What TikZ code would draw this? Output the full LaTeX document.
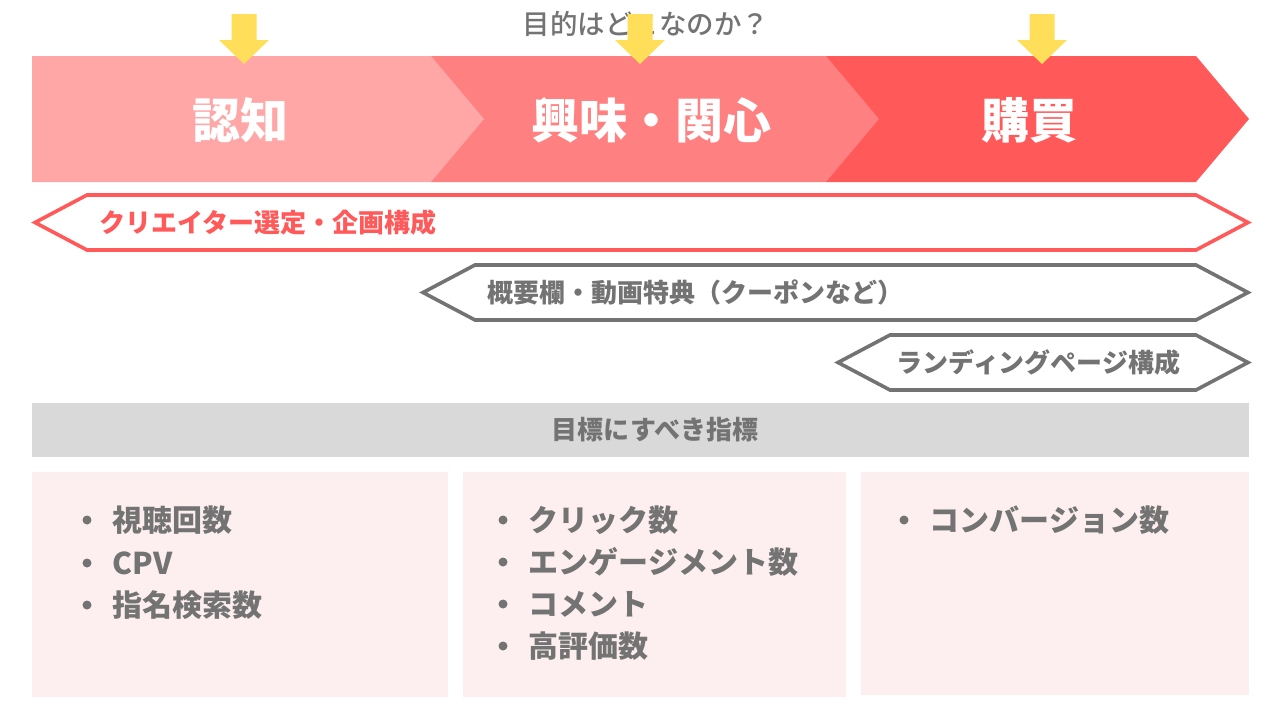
\documentclass[tikz,border=0pt]{standalone}
\usepackage{fontspec}
\setmainfont{Noto Sans CJK JP}
\newfontfamily\jpmedium{Noto Sans CJK JP Medium}
\usepackage{xcolor}
\usepackage{tikz}
\usetikzlibrary{math}
\usetikzlibrary{calc}
\usetikzlibrary{positioning}

\definecolor{stageA}{RGB}{255,166,166}
\definecolor{stageB}{RGB}{255,128,128}
\definecolor{stageC}{RGB}{255,89,89}
\definecolor{arrowyellow}{RGB}{255,222,89}
\definecolor{textgray}{RGB}{115,115,115}
\definecolor{headgray}{RGB}{217,217,217}
\definecolor{boxpink}{RGB}{253,239,239}

\begin{document}
\begin{tikzpicture}[x=1pt,y=-1pt,line width=3.6pt,line join=miter,
  stagelabel/.style={text=white,font=\fontsize{48}{48}\selectfont\bfseries},
  bannertext/.style={anchor=west,inner sep=0pt,font=\fontsize{26}{26}\selectfont\bfseries},
  item/.style={anchor=west,inner sep=0pt,text=textgray,font=\fontsize{30}{30}\selectfont\bfseries}]

  \tikzmath{
    \bandtop = 56;   % top of the stage band
    \bandbot = 182;  % bottom of the stage band
    \bandmid = 119;  % height of the chevron tips
    \tip     = 53;   % depth of a chevron tip
    \bannerh = 27.5; % half height of a banner
    \dotr    = 4.5;  % radius of the list bullets
  }

  % page
  \useasboundingbox (0,0) rectangle (1280,720);

  % stage band, drawn back to front
  \fill[stageC] (826,\bandtop) -- (1196,\bandtop) -- (1196+\tip,\bandmid)
    -- (1196,\bandbot) -- (826,\bandbot) -- cycle;
  \fill[stageB] (431,\bandtop) -- (826,\bandtop) -- (826+\tip,\bandmid)
    -- (826,\bandbot) -- (431,\bandbot) -- cycle;
  \fill[stageA] (32,\bandtop) -- (431,\bandtop) -- (431+\tip,\bandmid)
    -- (431,\bandbot) -- (32,\bandbot) -- cycle;

  \node[stagelabel] (ninchi) at (240,120) {認知};
  \node[stagelabel] (kyomi)  at (651,120) {興味・関心};
  \node[stagelabel] (kobai)  at (1029,120) {購買};

  % question on top
  \node[text=textgray,font=\fontsize{27.5}{27.5}\selectfont\jpmedium] (goal) at (646,24) {目的はどこなのか？};

  % yellow arrows
  \foreach \ax in {244,640,1042}{
    \fill[arrowyellow] (\ax-12.5,14) -- (\ax+12.5,14) -- (\ax+12.5,40) -- (\ax+25,40)
      -- (\ax,64) -- (\ax-25,40) -- (\ax-12.5,40) -- cycle;
  }

  % banners
  \coordinate (R) at (0,222.5);
  \draw[stageC,fill=white] ($(R)+(35,0)$) -- ($(R)+(87,-\bannerh)$) -- ($(R)+(1196,-\bannerh)$)
    -- ($(R)+(1248,0)$) -- ($(R)+(1196,\bannerh)$) -- ($(R)+(87,\bannerh)$) -- cycle;
  \node[bannertext,text=stageC] (creator) at (98,222.5) {クリエイター選定・企画構成};

  \coordinate (G) at (0,292.5);
  \draw[textgray,fill=white] ($(G)+(423,0)$) -- ($(G)+(475,-\bannerh)$) -- ($(G)+(1196,-\bannerh)$)
    -- ($(G)+(1248,0)$) -- ($(G)+(1196,\bannerh)$) -- ($(G)+(475,\bannerh)$) -- cycle;
  \node[bannertext,text=textgray] (coupon) at (486,292.5) {概要欄・動画特典（クーポンなど）};

  \coordinate (L) at (0,362.5);
  \draw[textgray,fill=white] ($(L)+(838,0)$) -- ($(L)+(890,-\bannerh)$) -- ($(L)+(1196,-\bannerh)$)
    -- ($(L)+(1248,0)$) -- ($(L)+(1196,\bannerh)$) -- ($(L)+(890,\bannerh)$) -- cycle;
  \node[bannertext,text=textgray] (landing) at (895,362.5) {ランディングページ構成};

  % header of the metrics
  \fill[headgray] (32,403) rectangle (1249,457);
  \node[text=textgray,font=\fontsize{26}{26}\selectfont\bfseries] (kpi) at (655,430) {目標にすべき指標};

  % metric boxes
  \fill[boxpink] (32,472) rectangle (448,697);
  \fill[boxpink] (463,472) rectangle (846,697);
  \fill[boxpink] (861,472) rectangle (1249,695);

  \node[item] (views)   at (111,520) {視聴回数};
  \node[item] (cpv)     at (111,563) {CPV};
  \node[item] (search)  at (111,605) {指名検索数};

  \node[item] (clicks)  at (527,520) {クリック数};
  \node[item] (engage)  at (527,562) {エンゲージメント数};
  \node[item] (comment) at (527,604) {コメント};
  \node[item] (likes)   at (527,646) {高評価数};

  \node[item] (conv)    at (928,520) {コンバージョン数};

  % bullets
  \foreach \n in {views,cpv,search,clicks,engage,comment,likes,conv}{
    \fill[textgray] ($(\n.west)+(-24,0)$) circle (\dotr);
  }

\end{tikzpicture}
\end{document}
